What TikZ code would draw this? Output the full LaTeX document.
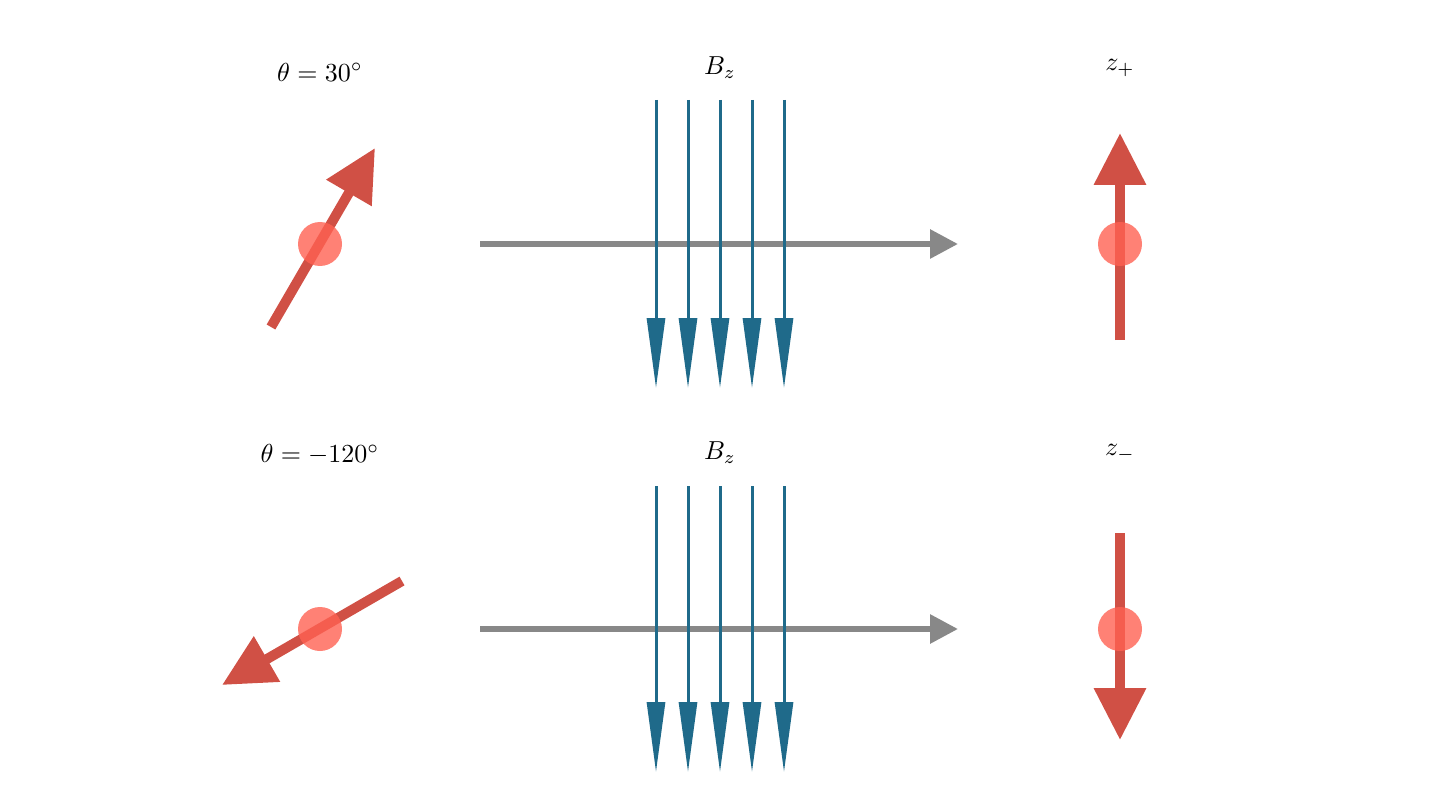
\documentclass[tikz,border=0pt]{standalone}
\usepackage{fontspec}
\usetikzlibrary{arrows.meta}
\definecolor{spin}{HTML}{D05045}
\definecolor{dotc}{HTML}{FF6152}
\definecolor{beam}{HTML}{888888}
\definecolor{field}{HTML}{1F6A8A}
\tikzset{
  spinarrow/.style={draw=spin,line width=10pt,-{Triangle[length=52pt,width=50pt]}},
  beamarrow/.style={draw=beam,line width=6pt,-{Triangle[length=28pt,width=28pt]}},
  fieldarrow/.style={draw=field,line width=3pt,-{Triangle[length=70pt,width=18pt]}},
  dot/.style={circle,fill=dotc,opacity=0.8,minimum size=44pt,inner sep=0pt},
  lab/.style={scale=2.6,transform shape}
}
\begin{document}
\begin{tikzpicture}[x=1pt,y=-1pt]
\useasboundingbox (0,0) rectangle (1440,810);
% top row
\coordinate (s1a) at (271,327); \coordinate (s1b) at (375,148);
\draw[spinarrow] (s1a) -- (s1b);
\node[dot] (d1) at (320,244) {};
\coordinate (b1a) at (480,244); \coordinate (b1b) at (958,244);
\draw[beamarrow] (b1a) -- (b1b);
\foreach \x in {656,688,720,752,784}{
  \coordinate (f1a\x) at (\x,100); \coordinate (f1b\x) at (\x,388);
  \draw[fieldarrow] (f1a\x) -- (f1b\x);}
\coordinate (z1a) at (1120,340); \coordinate (z1b) at (1120,133);
\draw[spinarrow] (z1a) -- (z1b);
\node[dot] (d2) at (1120,244) {};
\node[lab] (l1) at (320,72) {$\theta=30^\circ$};
\node[lab] (l2) at (720,68) {$B_z$};
\node[lab] (l3) at (1120,68) {$z_+$};
% bottom row
\coordinate (s2a) at (402,581); \coordinate (s2b) at (222,685);
\draw[spinarrow] (s2a) -- (s2b);
\node[dot] (d3) at (320,629) {};
\coordinate (b2a) at (480,629); \coordinate (b2b) at (958,629);
\draw[beamarrow] (b2a) -- (b2b);
\foreach \x in {656,688,720,752,784}{
  \coordinate (f2a\x) at (\x,486); \coordinate (f2b\x) at (\x,772);
  \draw[fieldarrow] (f2a\x) -- (f2b\x);}
\coordinate (z2a) at (1120,533); \coordinate (z2b) at (1120,740);
\draw[spinarrow] (z2a) -- (z2b);
\node[dot] (d4) at (1120,629) {};
\node[lab] (l4) at (320,455) {$\theta=-120^\circ$};
\node[lab] (l5) at (720,453) {$B_z$};
\node[lab] (l6) at (1120,453) {$z_-$};
\end{tikzpicture}
\end{document}
